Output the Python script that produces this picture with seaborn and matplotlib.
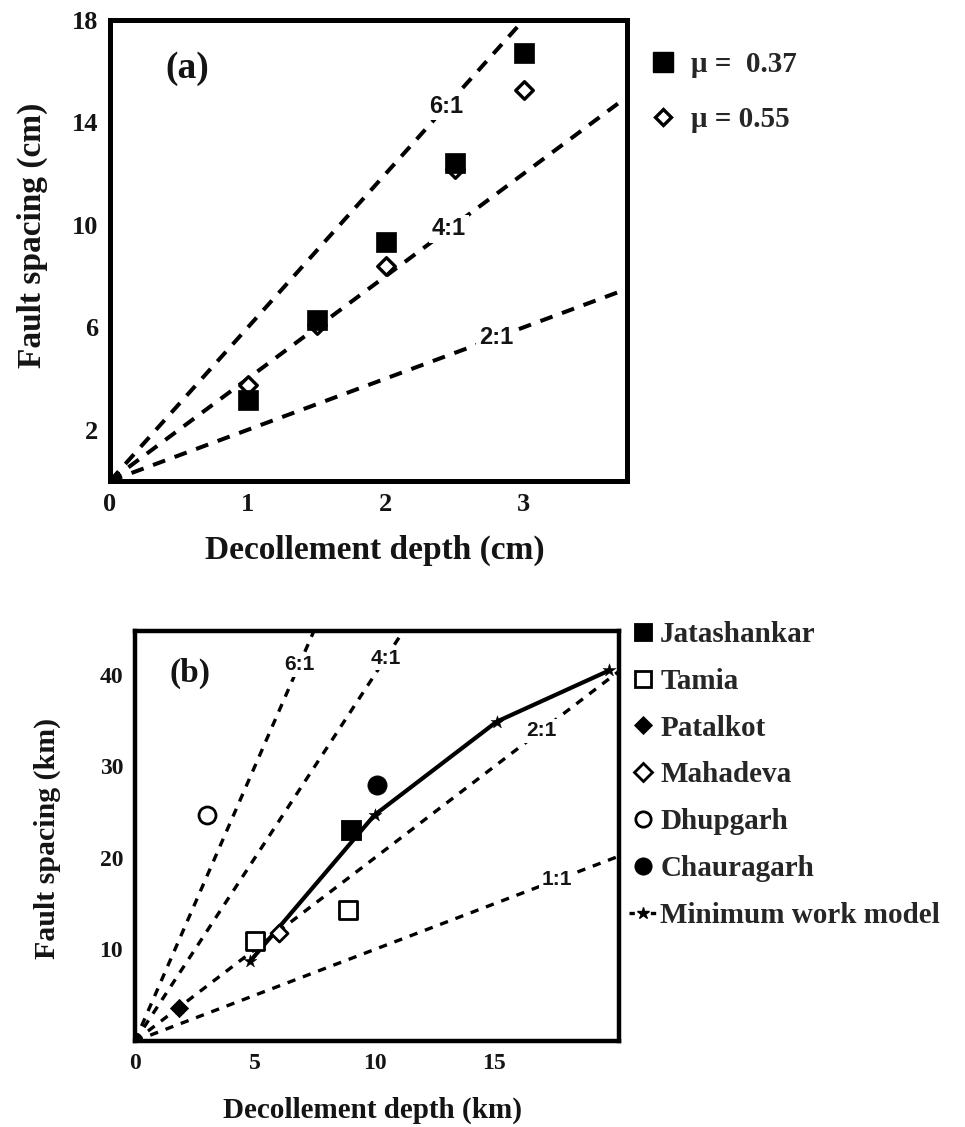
import matplotlib
matplotlib.use("Agg")
import matplotlib.pyplot as plt
import seaborn as sns
import pandas as pd
import numpy as np
from matplotlib.lines import Line2D

sns.set_theme(style="white")
plt.rcParams["font.family"] = ["Liberation Serif", "DejaVu Serif"]

INK = "#141414"

# ---- panel (a): sandbox models ----
depth_cm = [1.0, 1.5, 2.0, 2.5, 3.0]
spacing_mu037 = [3.15, 6.3, 9.35, 12.4, 16.7]
spacing_mu055 = [3.75, 6.1, 8.4, 12.2, 15.25]
mu_labels = ["\u03bc =  0.37", "\u03bc = 0.55"]
ratios_a = [6, 4, 2]
ratio_text_a = ["6:1", "4:1", "2:1"]
ratio_text_x_a = [2.44, 2.46, 2.80]

# ---- panel (b): field data ----
site_names = ["Jatashankar", "Tamia", "Patalkot", "Mahadeva", "Dhupgarh", "Chauragarh"]
site_depth = [[9.0], [5.0, 8.9], [1.85], [6.0], [3.0], [10.1]]
site_spacing = [[23.1], [10.9, 14.3], [3.65], [11.8], [24.7], [28.0]]
model_depth = [1.85, 4.8, 10.0, 15.1, 19.8]
model_spacing = [3.65, 8.7, 24.7, 34.9, 40.5]
model_label = "Minimum work model"
ratios_b = [6, 4, 2, 1]
ratio_text_b = ["6:1", "4:1", "2:1", "1:1"]
ratio_text_x_b = [6.85, 10.45, 16.95, 17.6]

# marker styles per site: (marker, filled, size)
site_style = {
    "Jatashankar": ("s", True, 190),
    "Tamia": ("s", False, 150),
    "Patalkot": ("D", True, 85),
    "Mahadeva": ("D", False, 75),
    "Dhupgarh": ("o", False, 150),
    "Chauragarh": ("o", True, 190),
}

fig = plt.figure(figsize=(9.65, 11.27), dpi=100)
ax_a = fig.add_axes([110 / 965, 1 - 481 / 1127, 517 / 965, 461 / 1127])
ax_b = fig.add_axes([135 / 965, 1 - 1041 / 1127, 484 / 965, 410 / 1127])


def style_axes(ax, spine_w, tick_size):
    for sp in ax.spines.values():
        sp.set_visible(True)
        sp.set_color("black")
        sp.set_linewidth(spine_w)
    ax.tick_params(which="both", direction="inout", length=11, width=1.8,
                   color="black", labelsize=tick_size, labelcolor=INK, pad=3)
    for lab in ax.get_xticklabels() + ax.get_yticklabels():
        lab.set_fontweight("bold")
    ax.grid(False)
    ax.set_facecolor("white")


def set_line_style(ax, start, lw, dash=None):
    for ln in ax.lines[start:]:
        ln.set_linewidth(lw)
        if dash is not None:
            ln.set_linestyle((0, dash))
        ln.set_solid_capstyle("butt")
        ln.set_dash_capstyle("butt")


def ratio_lines(ax, ratios, texts, text_x, xmax, lw, dash, fsize):
    for r, t, tx in zip(ratios, texts, text_x):
        d = pd.DataFrame({"depth": [0.0, xmax], "spacing": [0.0, r * xmax]})
        n = len(ax.lines)
        sns.lineplot(data=d, x="depth", y="spacing", ax=ax, color="black",
                     legend=False, zorder=2)
        set_line_style(ax, n, lw, dash)
        ax.text(tx, r * tx, t, ha="center", va="center", fontsize=fsize,
                fontweight="bold", family=["Liberation Sans", "DejaVu Sans"],
                color=INK, zorder=3,
                bbox=dict(boxstyle="square,pad=0.12", fc="white", ec="none"))


# ================= panel (a) =================
XMAX_A = 3.75
ratio_lines(ax_a, ratios_a, ratio_text_a, ratio_text_x_a, XMAX_A, 2.9, (3.2, 2.5), 17)

df_a = pd.DataFrame({"depth": depth_cm * 2,
                     "spacing": spacing_mu055 + spacing_mu037,
                     "mu": [mu_labels[1]] * 5 + [mu_labels[0]] * 5})
sns.scatterplot(data=df_a[df_a.mu == mu_labels[1]], x="depth", y="spacing",
                marker="D", s=80, facecolor="white", edgecolor="black",
                linewidth=2.4, ax=ax_a, zorder=4)
sns.scatterplot(data=df_a[df_a.mu == mu_labels[0]], x="depth", y="spacing",
                marker="s", s=215, color="black", edgecolor="black",
                linewidth=0.5, ax=ax_a, zorder=5)

ax_a.set_xlim(0, XMAX_A)
ax_a.set_ylim(0, 18)
ax_a.set_xticks([0, 1, 2, 3])
ax_a.set_yticks([2, 6, 10, 14, 18])
ax_a.set_yticks([4, 8, 12, 16], minor=True)
style_axes(ax_a, 3.6, 19)
ax_a.set_xlabel("Decollement depth (cm)", fontsize=24, fontweight="bold",
                color=INK)
ax_a.set_ylabel("Fault spacing (cm)", fontsize=24, fontweight="bold",
                color=INK)
ax_a.xaxis.set_label_coords(0.513, -0.117)
ax_a.yaxis.set_label_coords(-0.12, 0.532)
ax_a.text(0.56, 16.1, "(a)", fontsize=27, fontweight="bold", color=INK,
          ha="center", va="center")

handles_a = [
    Line2D([], [], ls="none", marker="s", ms=14.5, mfc="black", mec="black"),
    Line2D([], [], ls="none", marker="D", ms=8.5, mfc="white", mec="black", mew=2.4),
]
ax_a.legend(handles_a, mu_labels, loc="upper left",
            bbox_to_anchor=(650 / 965, 1 - 51 / 1127),
            bbox_transform=fig.transFigure, frameon=False, borderpad=0,
            borderaxespad=0, handlelength=0.9, handletextpad=0.5,
            labelspacing=0.95, prop=dict(family="Liberation Serif",
                                         weight="bold", size=21))

# ================= panel (b) =================
XMAX_B = 20.2
ratio_lines(ax_b, ratios_b, ratio_text_b, ratio_text_x_b, XMAX_B, 2.4, (2.5, 2.4), 15)

# minimum work model: solid trace through the modelled points
dm = pd.DataFrame({"depth": model_depth, "spacing": model_spacing})
n0 = len(ax_b.lines)
sns.lineplot(data=dm.iloc[1:], x="depth", y="spacing", ax=ax_b, color="black",
             legend=False, zorder=3, sort=False)
set_line_style(ax_b, n0, 3.0)
sns.scatterplot(data=dm, x="depth", y="spacing", marker="*", s=95,
                color="black", edgecolor="black", linewidth=0.3, ax=ax_b,
                zorder=6)

handles_b = []
for name, xs, ys in zip(site_names, site_depth, site_spacing):
    mk, filled, sz = site_style[name]
    d = pd.DataFrame({"depth": xs, "spacing": ys})
    sns.scatterplot(data=d, x="depth", y="spacing", marker=mk, s=sz,
                    facecolor="black" if filled else "white",
                    edgecolor="black", linewidth=0.6 if filled else 2.0,
                    ax=ax_b, zorder=5)
    ms = np.sqrt(sz) * (1.0 if mk == "D" else 0.9)
    handles_b.append(Line2D([], [], ls="none", marker=mk, ms=ms,
                            mfc="black" if filled else "white",
                            mec="black", mew=0.6 if filled else 2.0))
handles_b.append(Line2D([], [], color="black", lw=2.4, ls=(0, (1.6, 1.6)),
                        marker="*", ms=9, mfc="black", mec="black"))

ax_b.set_xlim(0, XMAX_B)
ax_b.set_ylim(0, 44.8)
ax_b.set_xticks([0, 5, 10, 15])
ax_b.set_yticks([10, 20, 30, 40])
style_axes(ax_b, 3.2, 17)
ax_b.set_xlabel("Decollement depth (km)", fontsize=21, fontweight="bold",
                color=INK)
ax_b.set_ylabel("Fault spacing (km)", fontsize=21.5, fontweight="bold",
                color=INK)
ax_b.xaxis.set_label_coords(0.49, -0.137)
ax_b.yaxis.set_label_coords(-0.153, 0.495)
ax_b.text(2.3, 40.2, "(b)", fontsize=24, fontweight="bold", color=INK,
          ha="center", va="center")

ax_b.legend(handles_b, site_names + [model_label], loc="upper left",
            bbox_to_anchor=(629 / 965, 1 - 621 / 1127),
            bbox_transform=fig.transFigure, frameon=False, borderpad=0,
            borderaxespad=0, handlelength=0.97, handletextpad=0.1,
            labelspacing=0.68, prop=dict(family="Liberation Serif",
                                         weight="bold", size=21))

fig.savefig("out.png", dpi=100, facecolor="white")
